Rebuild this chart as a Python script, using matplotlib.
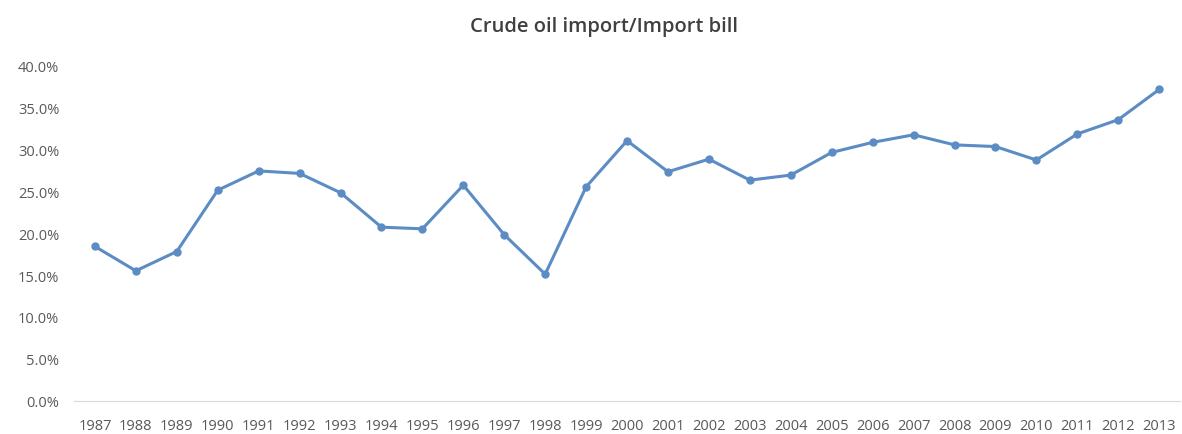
import matplotlib
matplotlib.use("Agg")
import matplotlib.pyplot as plt
from matplotlib.ticker import FuncFormatter

# Jahre und Anteil Rohöl an der Importrechnung (%)
years = list(range(1987, 2014))
share = [18.4, 15.5, 17.8, 25.1, 27.4, 27.1, 24.8, 20.7, 20.5, 25.7,
         19.8, 15.1, 25.5, 31.0, 27.3, 28.8, 26.3, 26.9, 29.6, 30.8,
         31.7, 30.5, 30.3, 28.7, 31.8, 33.5, 37.1]

plt.rcParams['font.family'] = ['Open Sans', 'DejaVu Sans']

fig = plt.figure(figsize=(11.82, 4.35), dpi=100)
ax = fig.add_axes([0.063, 0.076, 0.935, 0.772])

x = list(range(len(years)))
ax.plot(x, share, color='#5B8CC4', linewidth=2.2, marker='o', markersize=5)

ax.set_xlim(-0.5, len(years) - 0.5)
ax.set_ylim(0, 40)
ax.set_yticks([0, 5, 10, 15, 20, 25, 30, 35, 40])
ax.yaxis.set_major_formatter(FuncFormatter(lambda v, p: f"{v:.1f}%"))
ax.set_xticks(x)
ax.set_xticklabels([str(y) for y in years])

ax.tick_params(axis='both', length=0, labelsize=10.5, colors='#595959')
ax.tick_params(axis='x', pad=12)
ax.tick_params(axis='y', pad=11)
for s in ['top', 'right', 'left']:
    ax.spines[s].set_visible(False)
ax.spines['bottom'].set_color('#D9D9D9')

fig.text(0.511, 0.939, 'Crude oil import/Import bill', fontsize=14.5,
         color='#404040', fontweight='semibold', ha='center', va='center')

fig.savefig('out.png', dpi=100)
